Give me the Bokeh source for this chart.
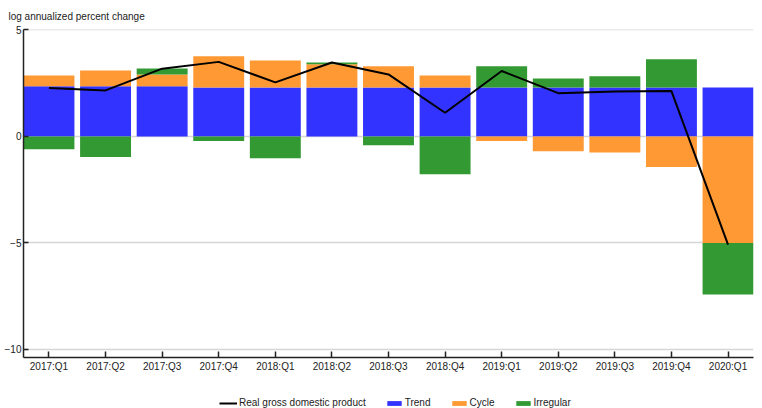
import numpy as np
from bokeh.plotting import figure
from bokeh.layouts import column
from bokeh.models import Range1d, FixedTicker, Legend, LegendItem
from bokeh.embed import file_html
from bokeh.resources import INLINE

quarters = ["2017:Q1", "2017:Q2", "2017:Q3", "2017:Q4", "2018:Q1", "2018:Q2", "2018:Q3",
            "2018:Q4", "2019:Q1", "2019:Q2", "2019:Q3", "2019:Q4", "2020:Q1"]
trend = [2.35, 2.35, 2.35, 2.30, 2.30, 2.30, 2.30, 2.30, 2.30, 2.30, 2.30, 2.30, 2.30]
cycle = [0.51, 0.75, 0.56, 1.46, 1.27, 1.09, 0.99, 0.56, -0.22, -0.70, -0.75, -1.44, -5.00]
irregular = [-0.60, -0.97, 0.28, -0.22, -1.02, 0.08, -0.42, -1.78, 0.99, 0.42, 0.52, 1.32, -2.42]
gdp = [2.27, 2.16, 3.18, 3.50, 2.54, 3.47, 2.91, 1.11, 3.07, 2.03, 2.11, 2.13, -5.08]
y_ticks = [-10, -5, 0, 5]

FONT = "Liberation Sans"
BLUE, ORANGE, GREEN = "#3333FF", "#FF9933", "#339933"
idx = list(range(len(quarters)))
t = np.array(trend)
c = np.array(cycle)
r = np.array(irregular)

# stacking: positives upward from 0, negatives downward from 0
c_bottom = np.where(c >= 0, t, 0.0)
c_top = c_bottom + c
pos_top = t + np.where(c > 0, c, 0.0)
neg_top = np.where(c < 0, c, 0.0)
r_bottom = np.where(r >= 0, pos_top, neg_top)
r_top = r_bottom + r

p = figure(width=762, height=392, output_backend="svg", toolbar_location=None,
           x_range=Range1d(-0.45, len(quarters) - 0.55), y_range=Range1d(-10.38, 5.02),
           min_border_left=23, min_border_right=9, min_border_top=29, min_border_bottom=35,
           title="log annualized percent change")
p.outline_line_color = None
p.background_fill_color = "white"

p.title.text_font = FONT
p.title.text_font_size = "10px"
p.title.text_font_style = "normal"
p.title.text_color = "#222222"
p.title.standoff = 15
p.title.offset = -15

w = 0.9
p.vbar(x=idx, bottom=0, top=t, width=w, fill_color=BLUE, line_color=None)
p.vbar(x=idx, bottom=c_bottom, top=c_top, width=w, fill_color=ORANGE, line_color=None)
p.vbar(x=idx, bottom=r_bottom, top=r_top, width=w, fill_color=GREEN, line_color=None)
p.line(x=idx, y=gdp, line_color="black", line_width=2)

p.xgrid.visible = False
p.ygrid.grid_line_color = "#d6d6d6"
p.ygrid.grid_line_width = 1.5
p.ygrid.ticker = FixedTicker(ticks=y_ticks)

ya = p.yaxis[0]
ya.ticker = FixedTicker(ticks=y_ticks)
ya.major_tick_in = 5
ya.major_tick_out = 0
ya.minor_tick_line_color = None
ya.major_label_standoff = 2
ya.major_label_text_font = FONT
ya.major_label_text_font_size = "10px"
ya.major_label_text_color = "#222222"
ya.axis_line_color = "#222222"
ya.axis_line_width = 1.5
ya.major_tick_line_color = "#222222"
ya.major_tick_line_width = 1.5

xa = p.xaxis[0]
xa.ticker = FixedTicker(ticks=idx)
xa.major_label_overrides = {i: q for i, q in enumerate(quarters)}
xa.major_tick_in = 6
xa.major_tick_out = 0
xa.minor_tick_line_color = None
xa.major_label_standoff = 3
xa.major_label_text_font = FONT
xa.major_label_text_font_size = "10px"
xa.major_label_text_color = "#222222"
xa.axis_line_color = "#222222"
xa.axis_line_width = 1.5
xa.major_tick_line_color = "#222222"
xa.major_tick_line_width = 1.5

# legend strip underneath (own small figure so the legend is not clipped);
# its renderers hold a single zero-size mark so only the legend swatches show
lg = figure(width=762, height=16, output_backend="svg", toolbar_location=None,
            x_range=Range1d(0, 1), y_range=Range1d(0, 1),
            x_axis_location=None, y_axis_location=None,
            min_border=0, outline_line_color=None)
lg.grid.visible = False
l_line = lg.line(x=[0], y=[0], line_color="black", line_width=2)
l_trend = lg.vbar(x=[0], bottom=[0], top=[0], width=0.9, fill_color=BLUE, line_color=None)
l_cycle = lg.vbar(x=[0], bottom=[0], top=[0], width=0.9, fill_color=ORANGE, line_color=None)
l_irr = lg.vbar(x=[0], bottom=[0], top=[0], width=0.9, fill_color=GREEN, line_color=None)

legend = Legend(items=[LegendItem(label="Real gross domestic product", renderers=[l_line]),
                       LegendItem(label="Trend", renderers=[l_trend]),
                       LegendItem(label="Cycle", renderers=[l_cycle]),
                       LegendItem(label="Irregular", renderers=[l_irr])],
                location=(196, 0), orientation="horizontal",
                padding=0, margin=0, spacing=19, label_standoff=2,
                glyph_width=18, glyph_height=6, label_height=10,
                label_text_font=FONT, label_text_font_size="10px", label_text_color="#222222",
                border_line_color=None, background_fill_alpha=0)
lg.add_layout(legend)

layout = column(p, lg, spacing=0)
open("out.html", "w").write(file_html(layout, INLINE))
